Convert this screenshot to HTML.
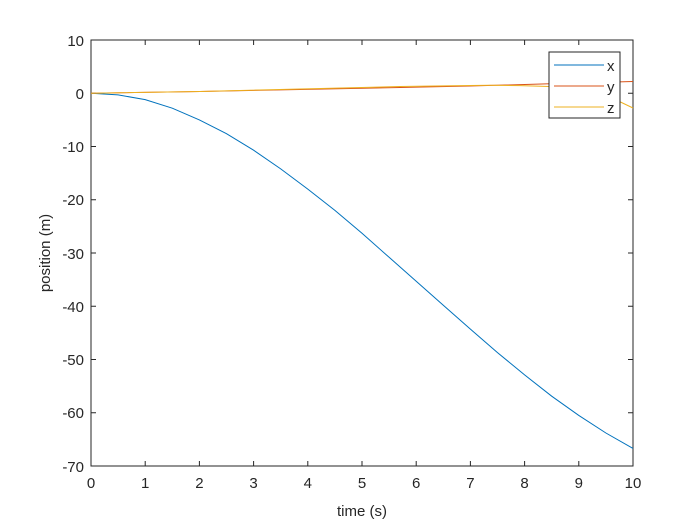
<!DOCTYPE html><html><head><style>body{margin:0;background:#fff}svg{display:block}text{font-family:"Liberation Sans",Arial,sans-serif;font-size:15px;fill:#262626}</style></head><body>
<svg width="700" height="525" viewBox="0 0 700 525">
<rect width="700" height="525" fill="#fff"/>
<rect x="91" y="40" width="542" height="426" fill="#fff" stroke="#262626" stroke-width="1"/>
<g stroke="#262626" stroke-width="1">
<path d="M145.2 466v-5M199.4 466v-5M253.6 466v-5M307.8 466v-5M362 466v-5M416.2 466v-5M470.4 466v-5M524.6 466v-5M578.8 466v-5M145.2 40v5M199.4 40v5M253.6 40v5M307.8 40v5M362 40v5M416.2 40v5M470.4 40v5M524.6 40v5M578.8 40v5"/>
<path d="M91 93.25h5M91 146.5h5M91 199.75h5M91 253h5M91 306.25h5M91 359.5h5M91 412.75h5M633 93.25h-5M633 146.5h-5M633 199.75h-5M633 253h-5M633 306.25h-5M633 359.5h-5M633 412.75h-5"/>
</g>
<g text-anchor="middle">
<text x="91" y="488">0</text><text x="145.2" y="488">1</text><text x="199.4" y="488">2</text><text x="253.6" y="488">3</text><text x="307.8" y="488">4</text><text x="362" y="488">5</text><text x="416.2" y="488">6</text><text x="470.4" y="488">7</text><text x="524.6" y="488">8</text><text x="578.8" y="488">9</text><text x="633" y="488">10</text>
<text x="362" y="516" font-size="16">time (s)</text>
</g>
<g text-anchor="end">
<text x="84" y="46">10</text><text x="84" y="99">0</text><text x="84" y="152">-10</text><text x="84" y="205">-20</text><text x="84" y="259">-30</text><text x="84" y="312">-40</text><text x="84" y="365">-50</text><text x="84" y="418">-60</text><text x="84" y="472">-70</text>
</g>
<text transform="translate(50 253) rotate(-90)" text-anchor="middle" font-size="16">position (m)</text>
<polyline fill="none" stroke="#0072bd" stroke-width="1" points="91,93.25 118.1,94.9 145.2,99.6 172.3,108.2 199.4,119.9 226.5,133.7 253.6,150.2 280.7,168.9 307.8,189.1 334.9,210.4 362,233.3 389.1,257.3 416.2,281.2 443.3,305.2 470.4,329.1 497.5,352.6 524.6,374.9 551.7,396.2 578.8,415.4 605.9,433 633,448.4"/>
<polyline fill="none" stroke="#d95319" stroke-width="1" points="91,93.25 200,91.5 300,89.5 400,87.5 470,86 550,83.8 633,81.5"/>
<polyline fill="none" stroke="#edb120" stroke-width="1" points="91,93.25 200,91.5 300,89 400,86.5 470,85.5 490,85.3 520,85.6 549,86.5 580,90 610,97 633,108"/>
<rect x="549" y="52" width="71" height="66" fill="#fff" stroke="#262626" stroke-width="1"/>
<line x1="554" y1="65" x2="604" y2="65" stroke="#0072bd"/>
<line x1="554" y1="86" x2="604" y2="86" stroke="#d95319"/>
<line x1="554" y1="107" x2="604" y2="107" stroke="#edb120"/>
<text x="607" y="71">x</text><text x="607" y="92">y</text><text x="607" y="113">z</text>
</svg></body></html>
